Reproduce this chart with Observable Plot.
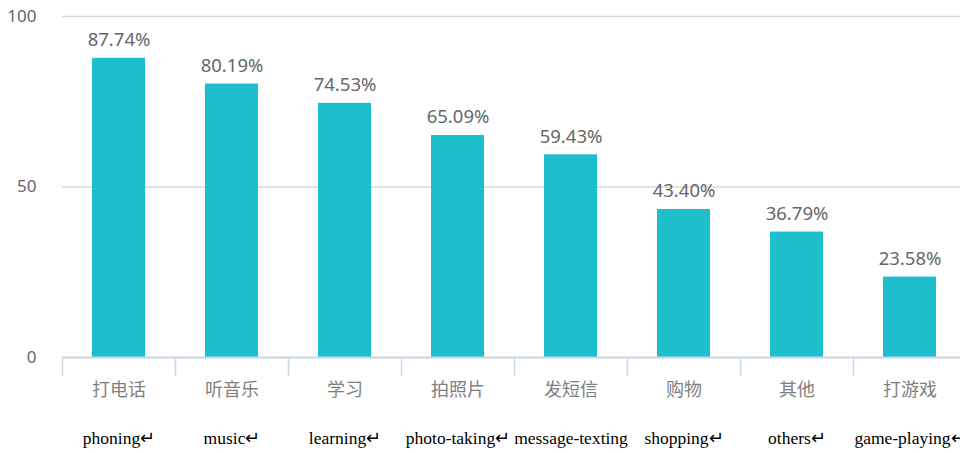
<!DOCTYPE html>
<html><head><meta charset="utf-8">
<script src="https://cdn.jsdelivr.net/npm/d3@7"></script>
<script src="https://cdn.jsdelivr.net/npm/@observablehq/plot@0.6"></script>
<style>body{margin:0;background:#fff;} svg{overflow:visible}</style>
</head><body><div id="chart"></div>
<script>
const categories = ["打电话","听音乐","学习","拍照片","发短信","购物","其他","打游戏"];
const englishLabels = ["phoning↵","music↵","learning↵","photo-taking↵","message-texting","shopping↵","others↵","game-playing↵"];
const values = [87.74, 80.19, 74.53, 65.09, 59.43, 43.40, 36.79, 23.58];
const valueLabels = ["87.74%","80.19%","74.53%","65.09%","59.43%","43.40%","36.79%","23.58%"];
const yTicks = [0, 50, 100];

const data = categories.map((c, i) => ({cat: c, en: englishLabels[i], v: values[i], lab: valueLabels[i]}));
const W = 960, H = 453, ML = 62, MR = -6;
const bw = (W - MR - ML) / categories.length;

const chart = Plot.plot({
  width: W, height: H,
  marginLeft: ML, marginRight: MR, marginTop: 16, marginBottom: 96,
  style: {fontFamily: "'Noto Sans','Noto Sans CJK SC',sans-serif", background: "#fff", overflow: "visible"},
  x: {domain: categories, paddingInner: 0.53, paddingOuter: 0.265, axis: null},
  y: {domain: [0, 100], axis: null},
  marks: [
    Plot.ruleY([50, 100], {stroke: "#d9d9d9", strokeWidth: 1.5}),
    Plot.barY(data, {x: "cat", y: "v", fill: "#1ebfcc"}),
    Plot.ruleY([0], {stroke: "#c9d6e4", strokeWidth: 2}),
    Plot.ruleX(data, {x: "cat", y1: 0, y2: 0, dx: -bw / 2, insetBottom: -19, stroke: "#c9d6e4", strokeWidth: 1.5}),
    Plot.text(data, {x: "cat", y: "v", text: "lab", dy: -18, fill: "#666", fontSize: 18.5}),
    Plot.text(yTicks, {x: () => categories[0], y: d => d, text: d => String(d), dx: -bw / 2 - 26, textAnchor: "end", fill: "#666", fontSize: 17}),
    Plot.text(data, {x: "cat", y: 0, text: "cat", dy: 33, fill: "#7f7f7f", fontSize: 18, fontFamily: "'Noto Sans CJK SC',sans-serif"}),
    Plot.text(data, {x: "cat", y: 0, text: "en", dy: 81, fill: "#000", fontSize: 17.5, fontFamily: "'Liberation Serif','Times New Roman',serif"})
  ]
});
document.getElementById("chart").appendChild(chart);
</script></body></html>
